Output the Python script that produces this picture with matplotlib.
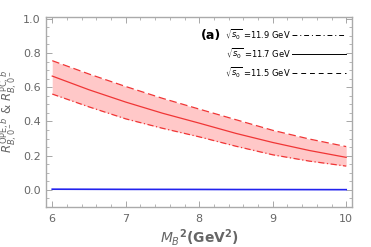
import matplotlib
matplotlib.use("Agg")
import matplotlib.pyplot as plt
from matplotlib.lines import Line2D
from matplotlib.ticker import MultipleLocator

# data
mb2 = [6.0, 6.5, 7.0, 7.5, 8.0, 8.5, 9.0, 9.5, 10.0]
r_central = [0.665, 0.585, 0.513, 0.448, 0.39, 0.33, 0.277, 0.23, 0.19]   # sqrt(s0)=11.7
r_upper = [0.755, 0.677, 0.604, 0.535, 0.472, 0.41, 0.348, 0.297, 0.253]  # sqrt(s0)=11.5
r_lower = [0.56, 0.485, 0.415, 0.36, 0.31, 0.255, 0.205, 0.168, 0.139]    # sqrt(s0)=11.9
r_pc = [0.004, 0.0035, 0.003, 0.0028, 0.0025, 0.002, 0.0018, 0.0015, 0.0012]
legend_labels = [r'$\sqrt{s_0}$ =11.9 GeV', r'$\sqrt{s_0}$ =11.7 GeV', r'$\sqrt{s_0}$ =11.5 GeV']

grey = '#666666'
red = '#f03535'

fig = plt.figure(figsize=(3.71, 2.47), dpi=100)
ax = fig.add_axes([0.123, 0.162, 0.826, 0.769])

ax.fill_between(mb2, r_lower, r_upper, color='#ffc8c8', lw=0)
ax.plot(mb2, r_upper, color=red, lw=0.9, ls=(0, (6, 3)))
ax.plot(mb2, r_lower, color=red, lw=0.9, ls=(0, (5, 2, 1, 2)))
ax.plot(mb2, r_central, color=red, lw=0.9)
ax.plot(mb2, r_pc, color='#2222ee', lw=1.2)

ax.set_xlim(5.91, 10.08)
ax.set_ylim(-0.1, 1.01)
ax.xaxis.set_major_locator(MultipleLocator(1))
ax.xaxis.set_minor_locator(MultipleLocator(0.2))
ax.yaxis.set_minor_locator(MultipleLocator(0.05))
ax.set_yticks([0.0, 0.2, 0.4, 0.6, 0.8, 1.0])
ax.set_yticklabels(['0.0', '0.2', '0.4', '0.6', '0.8', '1.0'])
ax.tick_params(which='both', direction='in', top=True, right=True, colors='#999999',
               labelcolor=grey, labelsize=8)
ax.tick_params(which='major', length=4, width=0.6)
ax.tick_params(which='minor', length=2, width=0.5)
ax.tick_params(axis='x', pad=5)
for s in ax.spines.values():
    s.set_color('#aaaaaa')
    s.set_linewidth(1.0)

ax.set_xlabel(r'$\boldsymbol{M_B}^{\mathbf{2}}\mathbf{(GeV^2)}$', fontsize=10, color=grey, labelpad=2)
ax.set_ylabel(r'$R^{\mathrm{OPE},b}_{B,0^-}$ & $R^{\mathrm{PC},b}_{B,0^-}$', fontsize=8.5,
              color=grey)
ax.yaxis.set_label_coords(-0.086, 0.5)

ax.text(0.505, 0.905, '(a)', transform=ax.transAxes, fontsize=9, fontweight='bold',
        color='black', va='center')

handles = [Line2D([], [], color='black', lw=0.7, ls=(0, (5, 3, 1, 3))),
           Line2D([], [], color='black', lw=0.7),
           Line2D([], [], color='black', lw=0.7, ls=(0, (5, 4)))]
ax.legend(handles, legend_labels, loc='upper right', bbox_to_anchor=(0.99, 0.965),
          markerfirst=False, frameon=False, fontsize=6, handlelength=6.5,
          handletextpad=0.1, labelspacing=0.7, borderaxespad=0)

fig.savefig('out.png', dpi=100)
